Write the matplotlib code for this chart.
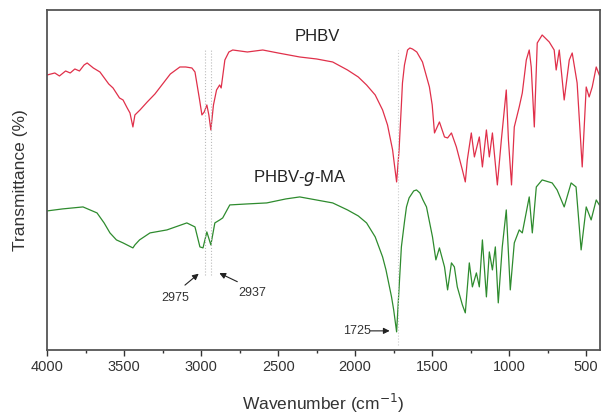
import numpy as np
import matplotlib.pyplot as plt

plt.rcParams['font.family'] = ['Liberation Sans', 'DejaVu Sans']

# PHBV spectrum (wavenumber, transmittance in arbitrary units)
phbv_wn = [4000, 3950, 3920, 3880, 3850, 3820, 3790, 3760, 3740, 3700, 3657, 3600, 3572, 3530,
           3507, 3480, 3462, 3443, 3430, 3397, 3350, 3300, 3250, 3200, 3138, 3100, 3060, 3040,
           3010, 2995, 2980, 2963, 2950, 2937, 2920, 2900, 2880, 2870, 2846, 2820, 2795, 2700,
           2600, 2500, 2360, 2250, 2146, 2050, 1980, 1926, 1870, 1822, 1790, 1757, 1745, 1731,
           1715, 1700, 1693, 1680, 1660, 1645, 1628, 1600, 1563, 1518, 1500, 1485, 1453, 1420,
           1400, 1375, 1343, 1304, 1285, 1272, 1246, 1226, 1194, 1174, 1148, 1129, 1109, 1077,
           1051, 1019, 1005, 985, 967, 935, 915, 889, 870, 857, 837, 818, 786, 740, 708, 695,
           675, 643, 610, 591, 559, 526, 500, 481, 461, 435, 415]
phbv_t = [275, 277, 274, 279, 277, 281, 279, 285, 287, 282, 278, 266, 262, 252,
          250, 242, 237, 223, 235, 240, 248, 256, 266, 276, 283, 283, 282, 278,
          250, 235, 238, 245, 235, 220, 245, 260, 265, 262, 290, 298, 300, 298,
          300, 297, 293, 291, 288, 280, 273, 265, 255, 240, 225, 200, 185, 168,
          200, 245, 267, 285, 300, 302, 301, 298, 288, 263, 245, 217, 228, 213,
          212, 217, 203, 180, 168, 190, 217, 193, 213, 183, 220, 193, 217, 165,
          210, 260, 210, 165, 223, 243, 257, 290, 300, 283, 223, 307, 315, 308, 300, 280,
          300, 250, 290, 297, 267, 183, 263, 253, 263, 283, 275]

# PHBV-g-MA spectrum
ma_wn = [4000, 3900, 3767, 3676, 3630, 3592, 3550, 3507, 3443, 3430, 3400, 3332, 3222, 3093,
         3040, 3008, 2988, 2963, 2937, 2911, 2879, 2860, 2814, 2700, 2574, 2450, 2360, 2146,
         2050, 1980, 1926, 1870, 1822, 1800, 1764, 1750, 1731, 1700, 1680, 1667, 1650, 1620,
         1602, 1580, 1560, 1537, 1498, 1476, 1453, 1420, 1400, 1375, 1356, 1337, 1304, 1285,
         1259, 1239, 1213, 1194, 1174, 1148, 1129, 1109, 1090, 1071, 1045, 1019, 993, 967,
         935, 915, 870, 850, 824, 786, 721, 689, 643, 598, 566, 533, 500, 468, 435, 415]
ma_t = [139, 141, 143, 137, 127, 117, 110, 107, 102, 105, 110, 117, 120, 127,
        123, 103, 102, 118, 105, 127, 130, 132, 145, 146, 147, 151, 153, 147,
        140, 134, 127, 113, 93, 80, 53, 40, 18, 103, 128, 143, 152, 159,
        160, 157, 150, 143, 113, 90, 102, 83, 60, 87, 83, 63, 45, 37,
        87, 63, 77, 63, 110, 53, 98, 80, 103, 47, 103, 140, 60, 107,
        120, 117, 153, 117, 163, 170, 167, 160, 143, 167, 163, 100, 143, 130, 150, 145]

marked = [2975, 2937]

fig = plt.figure(figsize=(6.04, 4.17), dpi=100)
ax = fig.add_axes([0.078, 0.161, 0.915, 0.815])

ax.plot(phbv_wn, phbv_t, color='#e0304a', lw=0.9)
ax.plot(ma_wn, ma_t, color='#2e8b2e', lw=0.9)

for w in marked:
    ax.plot([w, w], [75, 300], color='#bbbbbb', lw=0.8, ls=':')
ax.plot([1725, 1725], [5, 300], color='#cccccc', lw=0.8, ls=':')

ap = dict(arrowstyle='-|>', color='#222222', lw=0.8, mutation_scale=9)
ax.annotate('', xy=(3002, 78), xytext=(3119, 63), arrowprops=ap)
ax.annotate('', xy=(2898, 78), xytext=(2749, 67), arrowprops=ap)
ax.annotate('', xy=(1758, 19), xytext=(1920, 19), arrowprops=ap)
ax.text(3170, 52, '2975', ha='center', va='center', fontsize=9, color='#333333')
ax.text(2671, 57, '2937', ha='center', va='center', fontsize=9, color='#333333')
ax.text(1985, 19, '1725', ha='center', va='center', fontsize=9, color='#333333')

ax.text(2244, 313, 'PHBV', ha='center', va='center', fontsize=12, color='#222222')
ax.text(2360, 172, 'PHBV-$\\mathit{g}$-MA', ha='center', va='center', fontsize=12, color='#222222')

ax.set_xlim(4000, 412)
ax.set_ylim(0, 340)
ax.set_xticks([4000, 3500, 3000, 2500, 2000, 1500, 1000, 500])
ax.set_xticks(np.arange(3750, 400, -500), minor=True)
ax.set_yticks([])
ax.tick_params(axis='x', which='major', direction='out', length=4, width=1, labelsize=10.5,
               colors='#333333')
ax.tick_params(axis='x', which='minor', direction='out', length=2.5, width=1, colors='#333333')
for s in ax.spines.values():
    s.set_color('#555555')
    s.set_linewidth(1.3)

ax.set_xlabel('Wavenumber (cm$^{-1}$)', fontsize=12.5, color='#333333', labelpad=13)
ax.set_ylabel('Transmittance (%)', fontsize=12.5, color='#333333', labelpad=14)

fig.savefig('out.png', dpi=100)
